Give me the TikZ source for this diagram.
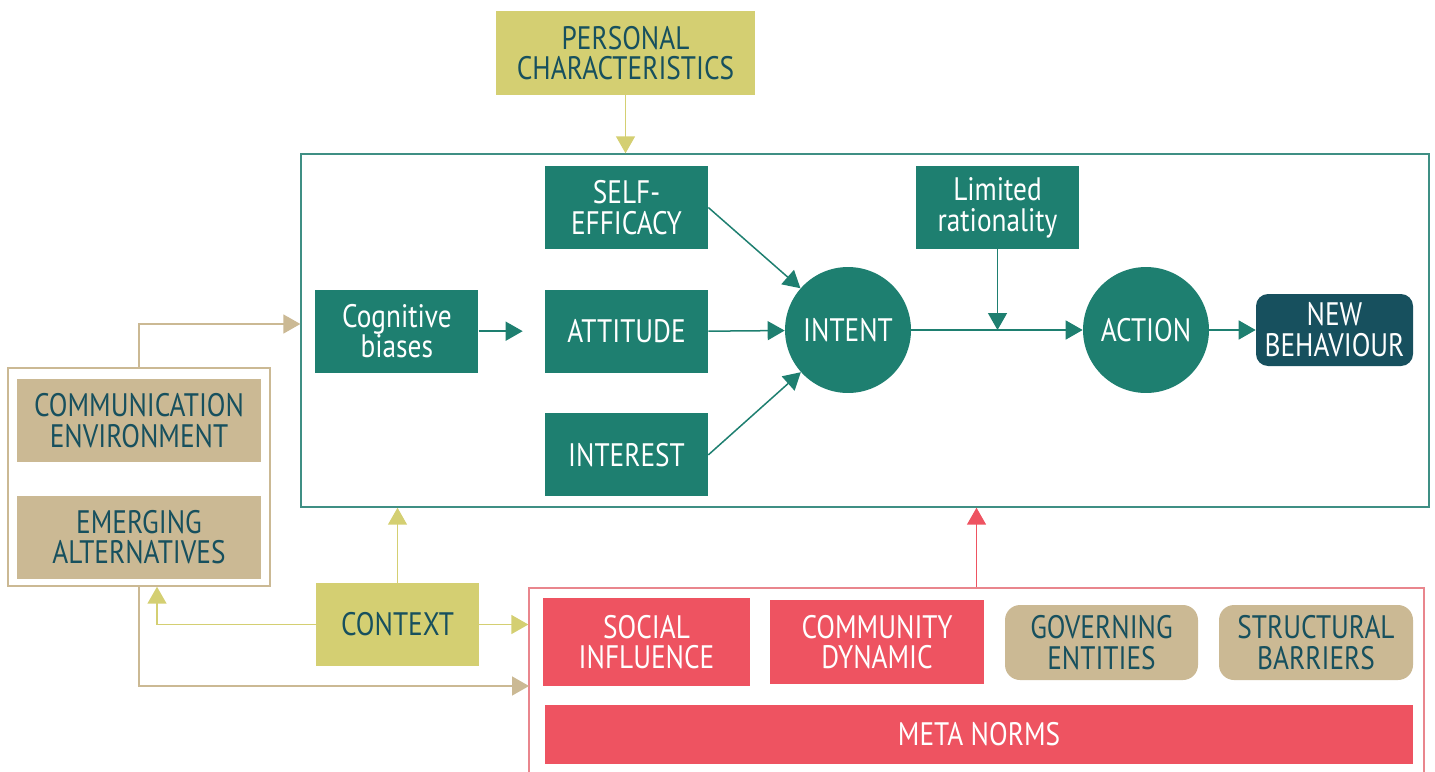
\documentclass[tikz,border=0pt]{standalone}
\usepackage{fontspec}
\setmainfont{PT Sans}[FakeStretch=0.84]
\usetikzlibrary{positioning,arrows.meta}
\definecolor{tealfill}{HTML}{1E7F70}
\definecolor{tealline}{HTML}{3F8F84}
\definecolor{navyfill}{HTML}{17505E}
\definecolor{olivefill}{HTML}{D4CF72}
\definecolor{tanfill}{HTML}{CBB994}
\definecolor{redfill}{HTML}{EE5361}
\definecolor{redline}{HTML}{E9868D}

\begin{document}
\begin{tikzpicture}[x=0.02cm,y=-0.02cm,
  every node/.style={font=\fontsize{18.5}{17.5}\selectfont,align=center,inner sep=0pt},
  tealbox/.style={fill=tealfill,text=white,minimum width=3.26cm,minimum height=1.66cm},
  tealcircle/.style={circle,fill=tealfill,text=white,minimum size=2.52cm},
  navybox/.style={fill=navyfill,text=white,rounded corners=0.24cm,minimum width=3.14cm,minimum height=1.44cm},
  olivebox/.style={fill=olivefill,text=navyfill,minimum width=3.26cm,minimum height=1.66cm},
  tanbox/.style={fill=tanfill,text=navyfill,minimum width=4.88cm,minimum height=1.66cm},
  redbox/.style={fill=redfill,text=white},
  frameline/.style={line width=0.03cm},
  tip/.style={-{Triangle[length=0.34cm,width=0.38cm]},line width=0.03cm},
  tealarrow/.style={tip,draw=tealfill},
  olivearrow/.style={tip,draw=olivefill},
  tanarrow/.style={tip,draw=tanfill},
  redarrow/.style={tip,draw=redfill}]

\useasboundingbox (0,0) rectangle (1435,771);

% main behaviour frame
\node [olivebox,minimum width=5.18cm,minimum height=1.68cm] (personal) at (625.5,53) {PERSONAL\\CHARACTERISTICS};
\node [draw=tealline,frameline,minimum width=22.56cm,minimum height=7.06cm] (frame) at (865,330.5) {};
\node [tealbox] (selfeff) at (626.5,207.5) {SELF-\\EFFICACY};
\node [tealbox,below=0.8cm of selfeff] (attitude) {ATTITUDE};
\node [tealbox,below=0.8cm of attitude] (interest) {INTEREST};
\node [tealbox,left=1.32cm of attitude] (cognitive) {Cognitive\\biases};
\node [tealcircle] (intent) at (848,330) {INTENT};
\node [tealbox] (limited) at (997.5,207.5) {Limited\\rationality};
\node [tealcircle] (action) at (1146,330) {ACTION};
\node [navybox] (newbeh) at (1334.5,330) {NEW\\BEHAVIOUR};

% outside factors
\node [draw=tanfill,frameline,minimum width=5.24cm,minimum height=4.36cm] (outside) at (139,477) {};
\node [tanbox] (communication) at (139,420.5) {COMMUNICATION\\ENVIRONMENT};
\node [tanbox,below=0.66cm of communication] (emerging) {EMERGING\\ALTERNATIVES};
\node [olivebox] (context) at (397.5,624.5) {CONTEXT};

% norms frame
\node [draw=redline,frameline,minimum width=17.9cm,minimum height=4.3cm,anchor=north] (norms) at (976.5,587) {};
\node [redbox,minimum width=4.14cm,minimum height=1.76cm] (social) at (646.5,642) {SOCIAL\\INFLUENCE};
\node [redbox,minimum width=4.28cm,minimum height=1.68cm] (community) at (877,642) {COMMUNITY\\DYNAMIC};
\node [tanbox,rounded corners=0.3cm,minimum width=3.86cm,minimum height=1.5cm] (governing) at (1101.5,642.5) {GOVERNING\\ENTITIES};
\node [tanbox,rounded corners=0.3cm,minimum width=3.88cm,minimum height=1.5cm] (structural) at (1316,642.5) {STRUCTURAL\\BARRIERS};
\node [redbox,minimum width=17.36cm,minimum height=1.18cm] (meta) at (979,734.5) {META NORMS};
\coordinate (feed) at (529,686);

% connectors
\draw [olivearrow] (personal) -- (personal.south |- frame.north);
\draw [tealarrow,shorten >=0.44cm] (cognitive) -- (attitude);
\foreach \src in {selfeff,attitude,interest}
{
\draw [tealarrow] (\src.east) -- (intent);
}
\draw [tealarrow] (limited) -- (limited.south |- intent.east);
\draw [tealarrow] (intent) -- (action);
\draw [tealarrow] (action) -- (newbeh);
\draw [tanarrow] (outside.north) |- ([yshift=0.13cm]frame.west);
\draw [olivearrow] (context) -- (context.north |- frame.south);
\draw [olivearrow] (context.west) -| ([xshift=0.36cm]outside.south);
\draw [olivearrow] (context) -- (context.east -| norms.west);
\draw [tanarrow] (outside.south) |- (feed);
\draw [redarrow] (norms.north) -- (norms.north |- frame.south);
\end{tikzpicture}
\end{document}
